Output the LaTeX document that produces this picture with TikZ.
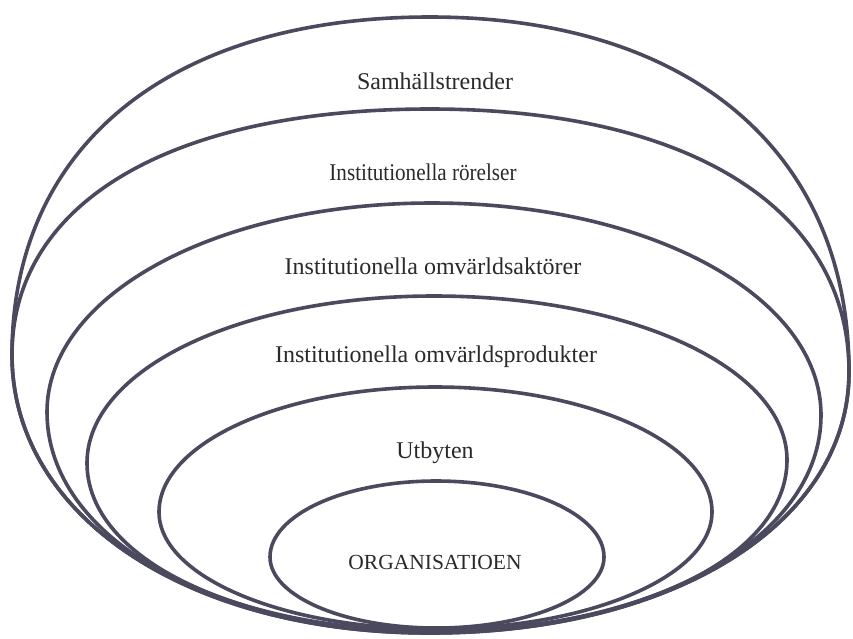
\documentclass[tikz,border=0pt]{standalone}
\usepackage{fontspec}
\setmainfont{Liberation Serif}
\usetikzlibrary{calc}
\definecolor{ringc}{HTML}{4A495E}
\definecolor{textc}{HTML}{2A2A2A}
\newcommand\ku{0.5523}
\newcommand\kl{0.5523}
\newcommand\eggshape[8]{%
  \coordinate (#1T) at (#2,#3);
  \coordinate (#1L) at (#4,#5);
  \coordinate (#1R) at (#6,#7);
  \coordinate (#1B) at (#2,#8);
  \draw[ring] (#1T)
    .. controls ($(#1T)!\ku!(#1T-|#1L)$) and ($(#1L)!\ku!(#1L|-#1T)$) .. (#1L)
    .. controls ($(#1L)!\kl!(#1L|-#1B)$) and ($(#1B)!\kl!(#1B-|#1L)$) .. (#1B)
    .. controls ($(#1B)!\kl!(#1B-|#1R)$) and ($(#1R)!\kl!(#1R|-#1B)$) .. (#1R)
    .. controls ($(#1R)!\ku!(#1R|-#1T)$) and ($(#1T)!\ku!(#1T-|#1R)$) .. (#1T) -- cycle;}
\begin{document}
\begin{tikzpicture}[x=1pt,y=-1pt,
  ring/.style={draw=ringc,line width=3.6pt},
  lbl/.style={text=textc,font=\fontsize{24}{28}\selectfont,inner sep=0pt},
  capslbl/.style={text=textc,font=\fontsize{21.5}{26}\selectfont,inner sep=0pt}]
\useasboundingbox (0,0) rectangle (853,638);
\fill[white] (0,0) rectangle (853,638);
% name, cx, ytop, xleft, yleft, xright, yright, ybottom
\renewcommand\ku{0.62}\renewcommand\kl{0.58}
\eggshape{a}{430}{17}{12}{355}{849}{372}{633}
\eggshape{b}{430}{109}{12}{355}{849}{372}{633}
\renewcommand\ku{0.56}\renewcommand\kl{0.57}
\eggshape{c}{432}{203}{47}{412}{821}{415}{632}
\eggshape{d}{434}{296}{87}{463}{787}{460}{631}
\renewcommand\ku{0.5523}\renewcommand\kl{0.5523}
\eggshape{e}{435}{387}{159}{512}{712}{512}{629}
\eggshape{f}{436}{481}{270}{557}{604}{557}{628}
\node[lbl] (t1) at (435,81) {Samhällstrender};
\node[lbl,xscale=0.88] (t2) at (423,172) {Institutionella rörelser};
\node[lbl] (t3) at (433,266) {Institutionella omvärldsaktörer};
\node[lbl] (t4) at (436,357) {Institutionella omvärldsprodukter};
\node[lbl] (t5) at (435,453) {Utbyten};
\node[capslbl] (t6) at (435,562) {ORGANISATIOEN};
\end{tikzpicture}
\end{document}
